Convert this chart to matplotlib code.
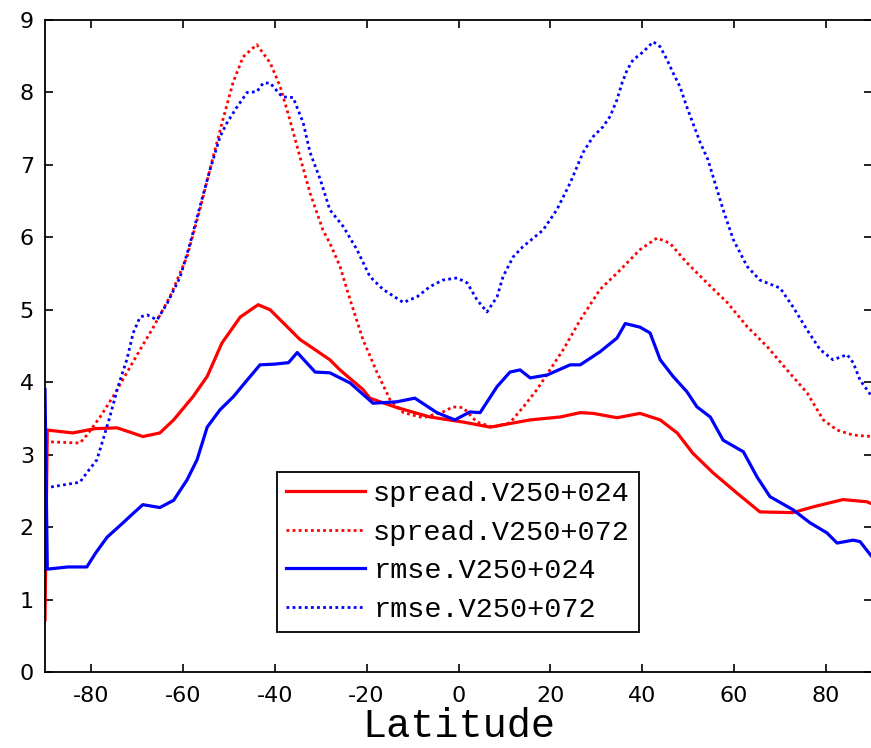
import matplotlib
matplotlib.use("Agg")
import matplotlib.pyplot as plt

plt.rcParams["axes.unicode_minus"] = False

# spread / rmse of V250 by latitude
lat_s24 = [-90, -89.5, -84, -79, -74.3, -71, -68.7, -65, -62, -57.8, -54.7, -51.5, -47.5,
           -43.6, -41, -34.5, -28, -25.8, -20.8, -19.3, -13.4, -6.2, 1, 6.9, 15.6, 22.1,
           26.5, 29.3, 34.5, 39.5, 43.9, 47.6, 51, 55.4, 60.6, 65.6, 72.8, 77.2, 83.7, 88.9, 90]
spread24 = [0.72, 3.34, 3.3, 3.36, 3.37, 3.3, 3.25, 3.3, 3.48, 3.8, 4.08, 4.54, 4.9,
            5.07, 5.0, 4.59, 4.31, 4.17, 3.9, 3.78, 3.65, 3.52, 3.45, 3.38, 3.48, 3.52,
            3.58, 3.57, 3.51, 3.57, 3.48, 3.3, 3.02, 2.75, 2.47, 2.21, 2.2, 2.28, 2.38, 2.35, 2.32]

lat_s72 = [-90, -82.4, -80.9, -78, -75.2, -72.2, -69.3, -66.5, -62.8, -59.1, -56.3, -53.4,
           -51.3, -49.1, -46.9, -43.9, -41, -38.8, -36.7, -34.5, -32.3, -29.5, -28, -25.8,
           -23.6, -20.8, -17.7, -14.9, -12, -7.7, -3.4, -1.2, 1, 4, 7.5, 11.2, 14, 17.1,
           19.9, 22.8, 26.5, 30.8, 35.2, 39.5, 43.2, 46, 49.7, 54.1, 58.5, 62.8, 67.2,
           71.5, 75.9, 79.4, 82.4, 85.9, 90]
spread72 = [3.18, 3.16, 3.27, 3.52, 3.8, 4.13, 4.45, 4.75, 5.18, 5.73, 6.38, 7.11,
            7.62, 8.13, 8.49, 8.66, 8.41, 8.08, 7.62, 7.11, 6.61, 6.1, 5.92, 5.6,
            5.14, 4.59, 4.13, 3.76, 3.58, 3.51, 3.59, 3.66, 3.65, 3.45, 3.38, 3.44, 3.65, 3.9,
            4.17, 4.45, 4.86, 5.28, 5.55, 5.83, 5.99, 5.92, 5.65, 5.37, 5.1, 4.77, 4.49,
            4.17, 3.85, 3.48, 3.34, 3.27, 3.25]

lat_r24 = [-90, -89.5, -85, -80.9, -79, -76.5, -73, -70.8, -68.7, -65, -62, -59.1, -56.9,
           -54.7, -51.9, -49, -46, -43.2, -40, -37, -35.1, -31.2, -28, -23.6, -18.6, -13.4,
           -9.5, -4.7, -0.8, 2.5, 4.7, 8.4, 11.2, 13.4, 15.6, 19.3, 24.3, 26.5, 30.8, 34.5,
           36.3, 39.5, 41.7, 43.9, 46.7, 49.7, 51.9, 54.8, 57.6, 62, 65, 67.8, 72.8, 76.5,
           80.2, 82.4, 85.9, 87.4, 90]
rmse24 = [3.9, 1.42, 1.45, 1.45, 1.64, 1.86, 2.06, 2.19, 2.31, 2.27, 2.37, 2.65, 2.93,
          3.38, 3.62, 3.8, 4.03, 4.24, 4.25, 4.27, 4.41, 4.14, 4.13, 3.99, 3.71, 3.73,
          3.78, 3.58, 3.48, 3.59, 3.58, 3.94, 4.14, 4.17, 4.06, 4.1, 4.24, 4.24, 4.42, 4.61,
          4.81, 4.76, 4.68, 4.31, 4.08, 3.87, 3.66, 3.52, 3.2, 3.04, 2.69, 2.42, 2.24, 2.06,
          1.92, 1.78, 1.82, 1.8, 1.59]

lat_r72 = [-90, -82.4, -80.9, -78.7, -77.4, -75.9, -74.1, -72.2, -70.8, -69.3, -67.8, -65.6,
           -63.4, -60.6, -58.4, -56.3, -54.1, -51.9, -50.4, -48.2, -46, -43.9, -42.5, -41,
           -38.4, -36, -33.8, -32.3, -30.1, -28, -25.1, -22.1, -19.3, -16.4, -12, -9, -6.2,
           -3.4, -0.3, 1.9, 4, 6.2, 8.4, 9.7, 11.9, 14, 18.4, 21.4, 24.3, 27.1, 29.3, 31.5,
           33, 34.5, 35.6, 36.7, 38, 40.2, 42.4, 43.9, 45.4, 46.7, 48.2, 49.7, 51, 52.6,
           54.3, 57.6, 59.8, 62.8, 65.6, 70, 72.8, 75.9, 78.7, 81.5, 84.6, 85.9, 87.4, 90]
rmse72 = [2.54, 2.62, 2.75, 2.93, 3.2, 3.52, 3.94, 4.31, 4.68, 4.9, 4.93, 4.86,
          5.09, 5.45, 5.92, 6.42, 6.93, 7.39, 7.58, 7.8, 8.0, 8.01, 8.13, 8.13,
          7.94, 7.93, 7.58, 7.17, 6.8, 6.38, 6.15, 5.83, 5.46, 5.28, 5.1, 5.18, 5.32,
          5.41, 5.44, 5.37, 5.14, 4.97, 5.18, 5.46, 5.73, 5.87, 6.1, 6.38, 6.75, 7.17, 7.39, 7.53,
          7.67, 7.9, 8.13, 8.31, 8.45, 8.56, 8.7, 8.63, 8.45, 8.27, 8.08, 7.8, 7.58, 7.31,
          7.07, 6.38, 5.97, 5.6, 5.41, 5.3, 5.04, 4.72, 4.45, 4.31, 4.38, 4.27, 4.03, 3.8]

labels = ["spread.V250+024", "spread.V250+072", "rmse.V250+024", "rmse.V250+072"]
xticks = [-80, -60, -40, -20, 0, 20, 40, 60, 80]
yticks = list(range(10))

W, H = 871, 748
fig = plt.figure(figsize=(W / 100, H / 100), dpi=100)
ax = fig.add_axes([45 / W, 76 / H, 827 / W, 652 / H])

ax.plot(lat_s24, spread24, color="red", lw=2.3, label=labels[0])
ax.plot(lat_s72, spread72, color="red", lw=2.0, ls=(0, (1, 1.2)), label=labels[1])
ax.plot(lat_r24, rmse24, color="blue", lw=2.3, label=labels[2])
ax.plot(lat_r72, rmse72, color="blue", lw=2.0, ls=(0, (1, 1.2)), label=labels[3])

ax.set_xlim(-90, 90)
ax.set_ylim(0, 9)
ax.set_xticks(xticks)
ax.set_yticks(yticks)
ax.tick_params(direction="in", length=6, width=1.2, top=True, right=True,
               labelsize=16, colors="black")
ax.tick_params(axis="y", pad=8)
ax.tick_params(axis="x", pad=10)
for s in ax.spines.values():
    s.set_linewidth(1.3)

ax.set_xlabel("Latitude", family="Liberation Mono", fontsize=29, labelpad=0.5)

leg = ax.legend(loc="lower left", bbox_to_anchor=(0.2805, 0.0613), borderaxespad=0,
                prop={"family": "Liberation Mono", "size": 20.5}, fancybox=False,
                framealpha=1, edgecolor="black", handlelength=2.75, handletextpad=0.3,
                labelspacing=0.44, borderpad=0.33)
leg.get_frame().set_linewidth(1.3)

fig.savefig("out.png", dpi=100)
